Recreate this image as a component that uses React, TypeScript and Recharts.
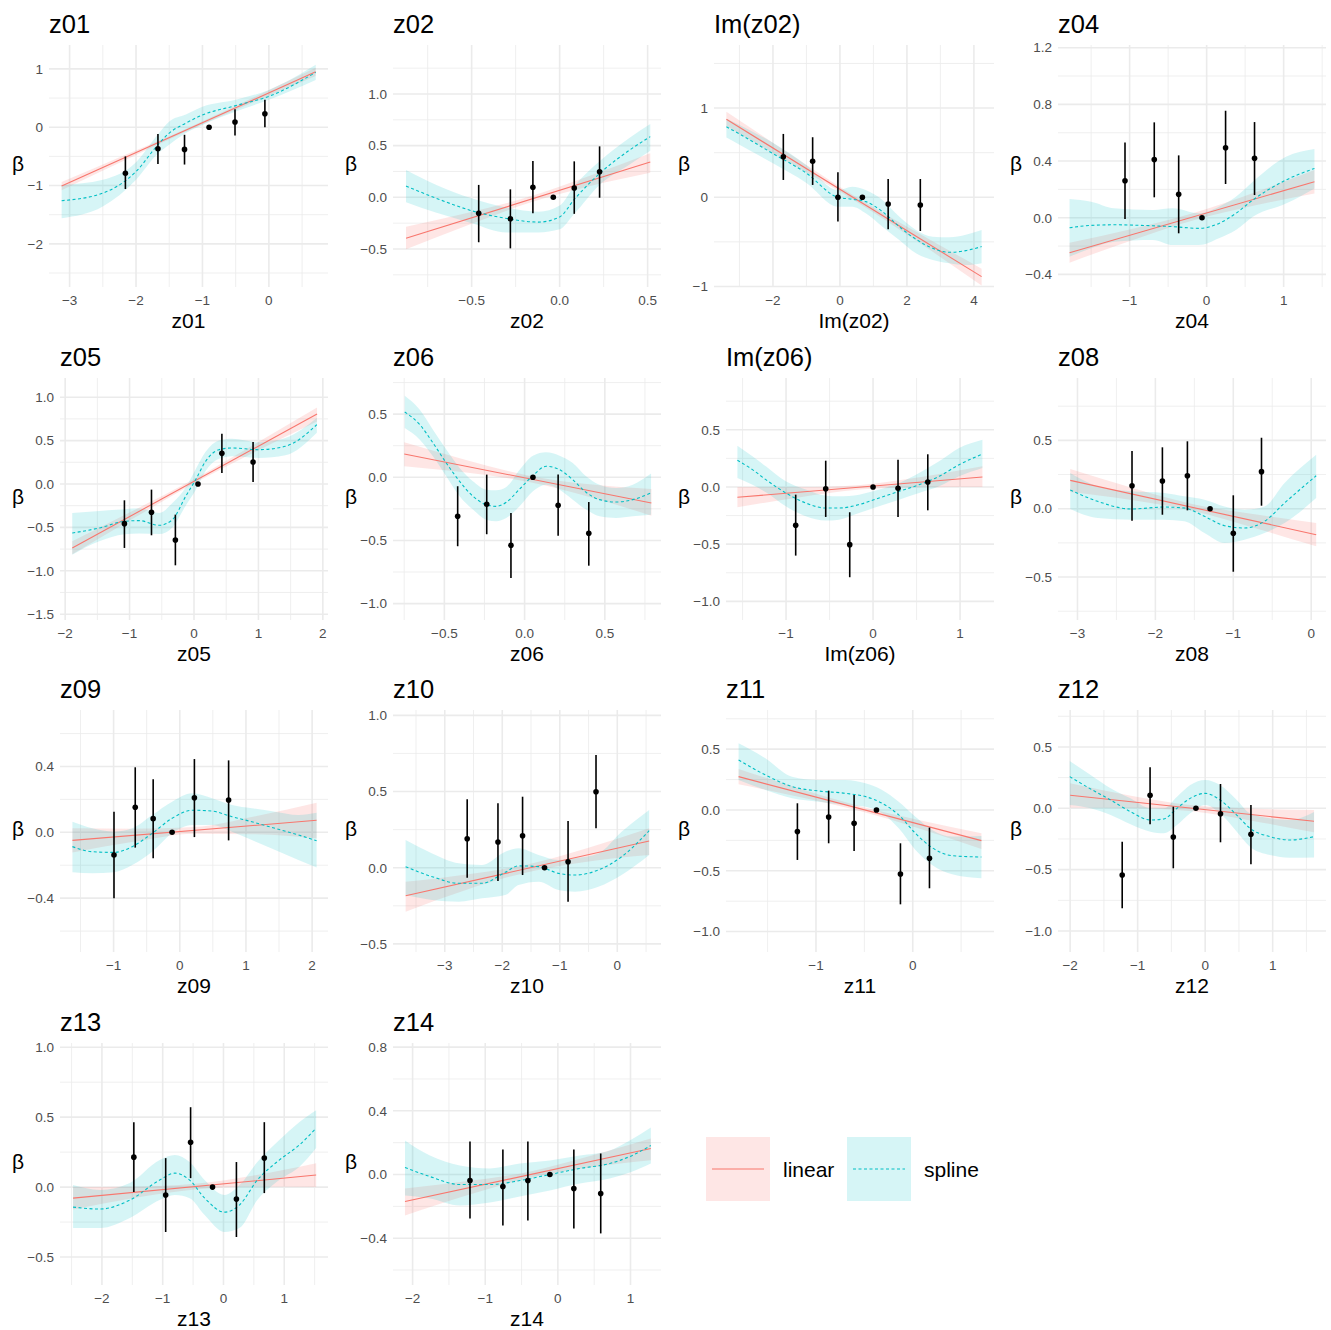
import React from 'react';
import { ComposedChart, XAxis, YAxis, CartesianGrid, Area, Line, Scatter, ErrorBar } from 'recharts';

// [x, estimate, lower, upper]
type Est = [number, number, number, number];
type Pt = [number, number];
type Band = [number, number, number];

const seriesNames = ['linear', 'spline'];

// ---------- z01 ----------
const z01Points: Est[] = [[-2.16, -0.79, -1.06, -0.5], [-1.67, -0.37, -0.63, -0.115], [-1.27, -0.38, -0.64, -0.13], [-0.9, 0, 0, 0], [-0.51, 0.09, -0.14, 0.31], [-0.06, 0.23, 0.0, 0.47]];
const z01Linear: Pt[] = [[-3.12, -1.01], [0.705, 0.95]];
const z01Band: Band[] = [[-3.12, -1.08, -0.94], [-2.16, -0.563, -0.473], [-1.21, -0.057, -0.007], [-0.25, 0.42, 0.5], [0.705, 0.88, 1.02]];
const z01Spline: Est[] = [[-3.12, -1.26, -1.56, -0.99], [-2.5, -1.13, -1.36, -0.9], [-2.0, -0.76, -0.9, -0.6], [-1.67, -0.3, -0.45, -0.12], [-1.5, -0.1, -0.3, 0.1], [-1.25, 0.07, -0.1, 0.22], [-1.0, 0.21, 0.04, 0.35], [-0.5, 0.37, 0.27, 0.47], [0.0, 0.53, 0.47, 0.64], [0.705, 0.94, 0.81, 1.07]];
const z01XTicks = [-3, -2, -1, 0];
const z01XMinor = [-2.5, -1.5, -0.5, 0.5];
const z01YTicks = [-2, -1, 0, 1];
const z01YMinor = [-2.5, -1.5, -0.5, 0.5];

// ---------- z02 ----------
const z02Points: Est[] = [[-0.46, -0.155, -0.435, 0.12], [-0.28, -0.207, -0.494, 0.077], [-0.152, 0.097, -0.155, 0.351], [-0.036, 0, 0, 0], [0.083, 0.09, -0.16, 0.348], [0.227, 0.248, -0.004, 0.493]];
const z02Linear: Pt[] = [[-0.873, -0.397], [0.515, 0.342]];
const z02Band: Band[] = [[-0.873, -0.503, -0.284], [-0.526, -0.272, -0.152], [-0.18, -0.058, 0.002], [0.168, 0.107, 0.207], [0.515, 0.238, 0.426]];
const z02Spline: Est[] = [[-0.873, 0.109, -0.048, 0.264], [-0.7, -0.01, -0.15, 0.12], [-0.5, -0.13, -0.25, -0.01], [-0.3, -0.205, -0.34, -0.1], [-0.12, -0.24, -0.34, -0.14], [0.0, -0.19, -0.31, -0.08], [0.083, -0.02, -0.16, 0.11], [0.227, 0.23, 0.12, 0.35], [0.4, 0.46, 0.32, 0.58], [0.515, 0.587, 0.45, 0.71]];
const z02XTicks = [-0.5, 0, 0.5];
const z02XMinor = [-0.75, -0.25, 0.25];
const z02YTicks = [-0.5, 0, 0.5, 1.0];
const z02YMinor = [-0.75, -0.25, 0.25, 0.75, 1.25];

// ---------- Im(z02) ----------
const im02Points: Est[] = [[-1.69, 0.455, 0.194, 0.71], [-0.815, 0.403, 0.138, 0.673], [-0.06, 0, -0.273, 0.28], [0.67, 0, 0, 0], [1.44, -0.075, -0.359, 0.205], [2.4, -0.086, -0.378, 0.205]];
const im02Linear: Pt[] = [[-3.39, 0.874], [4.23, -0.89]];
const im02Band: Band[] = [[-3.39, 0.8, 0.96], [-1.485, 0.383, 0.483], [0.42, -0.033, 0.017], [2.325, -0.499, -0.399], [4.23, -0.99, -0.8]];
const im02Spline: Est[] = [[-3.39, 0.79, 0.67, 0.88], [-3.0, 0.71, 0.59, 0.81], [-2.0, 0.49, 0.38, 0.61], [-1.0, 0.27, 0.16, 0.36], [-0.06, 0.0, -0.105, 0.082], [0.37, -0.022, -0.105, 0.119], [0.77, -0.049, -0.18, 0.082], [1.27, -0.161, -0.33, -0.03], [1.77, -0.33, -0.479, -0.217], [2.27, -0.471, -0.628, -0.367], [2.77, -0.572, -0.703, -0.442], [3.27, -0.617, -0.74, -0.449], [3.76, -0.598, -0.76, -0.42], [4.23, -0.553, -0.74, -0.367]];
const im02XTicks = [-2, 0, 2, 4];
const im02XMinor = [-3, -1, 1, 3];
const im02YTicks = [-1, 0, 1];
const im02YMinor = [-0.5, 0.5, 1.5];

// ---------- z04 ----------
const z04Points: Est[] = [[-1.06, 0.261, -0.009, 0.53], [-0.68, 0.41, 0.144, 0.673], [-0.363, 0.165, -0.11, 0.44], [-0.06, 0, 0, 0], [0.246, 0.494, 0.238, 0.755], [0.622, 0.419, 0.16, 0.675]];
const z04Linear: Pt[] = [[-1.78, -0.247], [1.4, 0.254]];
const z04Band: Band[] = [[-1.78, -0.317, -0.177], [-0.985, -0.162, -0.082], [-0.19, -0.021, 0.029], [0.605, 0.084, 0.174], [1.4, 0.171, 0.337]];
const z04Spline: Est[] = [[-1.78, -0.071, -0.275, 0.132], [-1.5, -0.054, -0.216, 0.113], [-1.2, -0.05, -0.169, 0.066], [-0.7, -0.057, -0.157, 0.054], [-0.44, -0.063, -0.193, 0.066], [-0.1, -0.075, -0.193, 0.031], [0.16, -0.04, -0.145, 0.078], [0.38, 0.031, -0.087, 0.148], [0.6, 0.125, 0.007, 0.254], [1.03, 0.266, 0.1, 0.43], [1.4, 0.348, 0.207, 0.485]];
const z04XTicks = [-1, 0, 1];
const z04XMinor = [-1.5, -0.5, 0.5, 1.5];
const z04YTicks = [-0.4, 0, 0.4, 0.8, 1.2];
const z04YMinor = [-0.2, 0.2, 0.6, 1.0];

// ---------- z05 ----------
const z05Points: Est[] = [[-1.08, -0.457, -0.737, -0.188], [-0.66, -0.326, -0.591, -0.065], [-0.289, -0.645, -0.937, -0.353], [0.062, 0, 0, 0], [0.433, 0.353, 0.127, 0.58], [0.917, 0.253, 0.023, 0.484]];
const z05Linear: Pt[] = [[-1.89, -0.737], [1.91, 0.806]];
const z05Band: Band[] = [[-1.89, -0.81, -0.66], [-0.94, -0.396, -0.306], [0.01, 0.01, 0.06], [0.96, 0.375, 0.465], [1.91, 0.72, 0.88]];
const z05Spline: Est[] = [[-1.89, -0.565, -0.814, -0.334], [-1.47, -0.507, -0.66, -0.31], [-1.08, -0.43, -0.58, -0.29], [-0.85, -0.422, -0.57, -0.28], [-0.54, -0.476, -0.576, -0.334], [-0.335, -0.411, -0.5, -0.22], [-0.129, -0.142, -0.25, -0.04], [0.026, 0.05, -0.07, 0.17], [0.18, 0.261, 0.15, 0.37], [0.387, 0.395, 0.29, 0.5], [0.592, 0.415, 0.32, 0.52], [1.005, 0.395, 0.3, 0.48], [1.418, 0.434, 0.33, 0.53], [1.907, 0.683, 0.59, 0.76]];
const z05XTicks = [-2, -1, 0, 1, 2];
const z05XMinor = [-1.5, -0.5, 0.5, 1.5];
const z05YTicks = [-1.5, -1, -0.5, 0, 0.5, 1];
const z05YMinor = [-1.25, -0.75, -0.25, 0.25, 0.75];

// ---------- z06 ----------
const z06Points: Est[] = [[-0.417, -0.309, -0.546, -0.071], [-0.236, -0.214, -0.451, 0.021], [-0.085, -0.538, -0.797, -0.283], [0.052, 0, 0, 0], [0.209, -0.222, -0.462, 0.021], [0.4, -0.443, -0.7, -0.196]];
const z06Linear: Pt[] = [[-0.75, 0.184], [0.79, -0.203]];
const z06Band: Band[] = [[-0.75, 0.087, 0.277], [-0.365, 0.037, 0.137], [0.02, -0.035, 0.015], [0.405, -0.156, -0.056], [0.79, -0.304, -0.093]];
const z06Spline: Est[] = [[-0.747, 0.517, 0.39, 0.646], [-0.653, 0.417, 0.298, 0.535], [-0.571, 0.272, 0.166, 0.377], [-0.488, 0.113, 0.008, 0.219], [-0.405, -0.032, -0.15, 0.074], [-0.322, -0.15, -0.256, -0.032], [-0.239, -0.217, -0.336, -0.098], [-0.177, -0.23, -0.348, -0.103], [-0.114, -0.198, -0.322, -0.077], [-0.031, -0.093, -0.23, 0.06], [0.052, 0.013, -0.111, 0.171], [0.134, 0.087, -0.059, 0.198], [0.218, 0.06, -0.098, 0.171], [0.3, -0.019, -0.177, 0.113], [0.383, -0.119, -0.256, 0.008], [0.467, -0.177, -0.309, -0.059], [0.57, -0.196, -0.322, -0.085], [0.674, -0.177, -0.309, -0.059], [0.788, -0.124, -0.296, 0.029]];
const z06XTicks = [-0.5, 0, 0.5];
const z06XMinor = [-0.75, -0.25, 0.25, 0.75];
const z06YTicks = [-1, -0.5, 0, 0.5];
const z06YMinor = [-0.75, -0.25, 0.25, 0.75];

// ---------- Im(z06) ----------
const im06Points: Est[] = [[-0.889, -0.335, -0.6, -0.067], [-0.544, -0.015, -0.262, 0.23], [-0.268, -0.504, -0.789, -0.221], [0, 0, 0, 0], [0.287, -0.012, -0.262, 0.239], [0.629, 0.044, -0.204, 0.286]];
const im06Linear: Pt[] = [[-1.559, -0.09], [1.257, 0.087]];
const im06Band: Band[] = [[-1.559, -0.178, 0.0], [-0.855, -0.091, -0.001], [-0.151, -0.022, 0.018], [0.553, -0.002, 0.088], [1.257, 0.0, 0.181]];
const im06Spline: Est[] = [[-1.559, 0.233, 0.079, 0.361], [-1.386, 0.152, 0.02, 0.268], [-1.232, 0.064, -0.047, 0.181], [-1.003, -0.052, -0.169, 0.05], [-0.774, -0.14, -0.256, -0.023], [-0.544, -0.184, -0.294, -0.076], [-0.391, -0.184, -0.286, -0.082], [-0.161, -0.154, -0.227, -0.067], [0.069, -0.096, -0.169, -0.023], [0.299, -0.038, -0.111, 0.035], [0.529, 0.02, -0.052, 0.122], [0.759, 0.093, 0.006, 0.224], [0.989, 0.195, 0.093, 0.341], [1.257, 0.288, 0.166, 0.414]];
const im06XTicks = [-1, 0, 1];
const im06XMinor = [-1.5, -0.5, 0.5];
const im06YTicks = [-1, -0.5, 0, 0.5];
const im06YMinor = [-0.75, -0.25, 0.25, 0.75];

// ---------- z08 ----------
const z08Points: Est[] = [[-2.3, 0.168, -0.088, 0.422], [-1.91, 0.203, -0.044, 0.449], [-1.589, 0.241, -0.012, 0.493], [-1.298, 0, 0, 0], [-1.0, -0.18, -0.461, 0.098], [-0.638, 0.271, 0.022, 0.519]];
const z08Linear: Pt[] = [[-3.093, 0.207], [0.064, -0.19]];
const z08Band: Band[] = [[-3.093, 0.122, 0.29], [-2.304, 0.063, 0.153], [-1.515, -0.017, 0.033], [-0.725, -0.141, -0.041], [0.064, -0.275, -0.105]];
const z08Spline: Est[] = [[-3.093, 0.137, -0.002, 0.261], [-2.742, 0.054, -0.068, 0.164], [-2.314, -0.002, -0.08, 0.127], [-1.885, 0.012, -0.08, 0.115], [-1.628, 0.005, -0.092, 0.091], [-1.37, -0.056, -0.178, 0.066], [-1.113, -0.124, -0.251, 0.017], [-0.856, -0.141, -0.227, -0.007], [-0.599, -0.092, -0.178, 0.017], [-0.342, 0.042, -0.105, 0.188], [0.064, 0.241, 0.078, 0.395]];
const z08XTicks = [-3, -2, -1, 0];
const z08XMinor = [-2.5, -1.5, -0.5];
const z08YTicks = [-0.5, 0, 0.5];
const z08YMinor = [-0.75, -0.25, 0.25, 0.75];

// ---------- z09 ----------
const z09Points: Est[] = [[-0.994, -0.138, -0.401, 0.125], [-0.673, 0.152, -0.093, 0.395], [-0.402, 0.083, -0.158, 0.322], [-0.116, 0, 0, 0], [0.221, 0.21, -0.029, 0.445], [0.738, 0.196, -0.049, 0.437]];
const z09Linear: Pt[] = [[-1.622, -0.049], [2.068, 0.073]];
const z09Band: Band[] = [[-1.622, -0.122, 0.024], [-0.7, -0.058, 0.022], [0.223, -0.008, 0.032], [1.145, -0.012, 0.098], [2.068, -0.036, 0.18]];
const z09Spline: Est[] = [[-1.622, -0.087, -0.243, 0.064], [-1.321, -0.118, -0.249, 0.024], [-0.994, -0.122, -0.243, 0.004], [-0.718, -0.087, -0.199, 0.024], [-0.417, -0.006, -0.118, 0.105], [-0.116, 0.085, -0.006, 0.186], [0.185, 0.134, 0.044, 0.237], [0.487, 0.129, 0.044, 0.207], [0.788, 0.095, 0.004, 0.166], [1.089, 0.064, -0.047, 0.146], [1.441, 0.024, -0.108, 0.125], [1.792, -0.016, -0.168, 0.105], [2.068, -0.051, -0.213, 0.119]];
const z09XTicks = [-1, 0, 1, 2];
const z09XMinor = [-1.5, -0.5, 0.5, 1.5];
const z09YTicks = [-0.4, 0, 0.4];
const z09YMinor = [-0.6, -0.2, 0.2, 0.6];

// ---------- z10 ----------
const z10Points: Est[] = [[-2.61, 0.19, -0.066, 0.449], [-2.075, 0.169, -0.087, 0.423], [-1.647, 0.21, -0.048, 0.466], [-1.265, 0, 0, 0], [-0.856, 0.039, -0.223, 0.306], [-0.37, 0.499, 0.259, 0.739]];
const z10Linear: Pt[] = [[-3.68, -0.184], [0.554, 0.175]];
const z10Band: Band[] = [[-3.68, -0.289, -0.092], [-2.62, -0.144, -0.044], [-1.56, -0.029, 0.021], [-0.5, 0.041, 0.131], [0.554, 0.083, 0.259]];
const z10Spline: Est[] = [[-3.681, 0.007, -0.179, 0.182], [-3.218, -0.059, -0.212, 0.094], [-2.756, -0.102, -0.223, 0.029], [-2.352, -0.102, -0.201, 0.018], [-1.948, -0.03, -0.179, 0.105], [-1.716, 0.012, -0.114, 0.127], [-1.369, 0.007, -0.092, 0.083], [-1.023, -0.037, -0.146, 0.051], [-0.735, -0.048, -0.157, 0.062], [-0.329, -0.015, -0.125, 0.094], [0.075, 0.072, -0.048, 0.236], [0.554, 0.243, 0.083, 0.379]];
const z10XTicks = [-3, -2, -1, 0];
const z10XMinor = [-3.5, -2.5, -1.5, -0.5, 0.5];
const z10YTicks = [-0.5, 0, 0.5, 1.0];
const z10YMinor = [-0.25, 0.25, 0.75];

// ---------- z11 ----------
const z11Points: Est[] = [[-1.192, -0.178, -0.411, 0.055], [-0.869, -0.058, -0.274, 0.159], [-0.606, -0.11, -0.337, 0.123], [-0.375, 0, 0, 0], [-0.127, -0.526, -0.776, -0.274], [0.173, -0.397, -0.644, -0.145]];
const z11Linear: Pt[] = [[-1.8, 0.274], [0.71, -0.252]];
const z11Band: Band[] = [[-1.8, 0.211, 0.337], [-1.17, 0.107, 0.177], [-0.545, -0.009, 0.031], [0.083, -0.156, -0.086], [0.71, -0.321, -0.192]];
const z11Spline: Est[] = [[-1.8, 0.411, 0.247, 0.548], [-1.523, 0.288, 0.164, 0.425], [-1.247, 0.192, 0.096, 0.274], [-0.972, 0.156, 0.068, 0.247], [-0.696, 0.137, 0.041, 0.247], [-0.489, 0.11, 0.027, 0.219], [-0.317, 0.055, -0.027, 0.164], [-0.145, -0.041, -0.151, 0.068], [0.028, -0.192, -0.329, -0.055], [0.2, -0.31, -0.452, -0.164], [0.407, -0.376, -0.529, -0.219], [0.71, -0.387, -0.562, -0.214]];
const z11XTicks = [-1, 0];
const z11XMinor = [-1.5, -0.5, 0.5];
const z11YTicks = [-1, -0.5, 0, 0.5];
const z11YMinor = [-0.75, -0.25, 0.25, 0.75];

// ---------- z12 ----------
const z12Points: Est[] = [[-1.229, -0.544, -0.815, -0.272], [-0.816, 0.106, -0.13, 0.334], [-0.472, -0.234, -0.489, 0.013], [-0.137, 0, 0, 0], [0.227, -0.044, -0.277, 0.198], [0.678, -0.212, -0.456, 0.027]];
const z12Linear: Pt[] = [[-2.0, 0.106], [1.613, -0.106]];
const z12Band: Band[] = [[-2.0, 0.005, 0.204], [-1.1, 0.003, 0.103], [-0.19, -0.025, 0.025], [0.71, -0.103, -0.003], [1.613, -0.196, -0.014]];
const z12Spline: Est[] = [[-2.006, 0.258, 0.027, 0.385], [-1.696, 0.157, 0.0, 0.271], [-1.401, 0.068, -0.055, 0.163], [-1.106, -0.028, -0.13, 0.081], [-0.811, -0.095, -0.191, 0.0], [-0.614, -0.087, -0.204, 0.0], [-0.417, 0.0, -0.136, 0.095], [-0.221, 0.081, -0.041, 0.19], [0.0, 0.122, 0.027, 0.231], [0.221, 0.068, -0.041, 0.19], [0.468, -0.055, -0.191, 0.068], [0.664, -0.163, -0.313, -0.041], [0.959, -0.231, -0.381, -0.081], [1.254, -0.258, -0.402, -0.095], [1.613, -0.231, -0.4, -0.03]];
const z12XTicks = [-2, -1, 0, 1];
const z12XMinor = [-1.5, -0.5, 0.5, 1.5];
const z12YTicks = [-1, -0.5, 0, 0.5];
const z12YMinor = [-0.75, -0.25, 0.25, 0.75];

// ---------- z13 ----------
const z13Points: Est[] = [[-1.475, 0.214, -0.036, 0.464], [-0.951, -0.057, -0.321, 0.207], [-0.541, 0.321, 0.064, 0.571], [-0.18, 0, 0, 0], [0.213, -0.086, -0.357, 0.179], [0.672, 0.207, -0.043, 0.464]];
const z13Linear: Pt[] = [[-2.475, -0.079], [1.525, 0.086]];
const z13Band: Band[] = [[-2.475, -0.16, 0.0], [-1.475, -0.078, 0.002], [-0.475, -0.017, 0.023], [0.525, 0.005, 0.085], [1.525, 0.0, 0.17]];
const z13Spline: Est[] = [[-2.475, -0.143, -0.293, 0.014], [-2.03, -0.157, -0.293, -0.021], [-1.54, -0.093, -0.221, 0.029], [-1.05, 0.05, -0.093, 0.193], [-0.8, 0.1, -0.057, 0.229], [-0.557, 0.05, -0.079, 0.179], [-0.31, -0.079, -0.2, 0.05], [0.016, -0.179, -0.321, -0.057], [0.262, -0.129, -0.293, 0.014], [0.557, 0.05, -0.093, 0.179], [0.918, 0.193, 0.05, 0.336], [1.246, 0.3, 0.143, 0.464], [1.525, 0.421, 0.279, 0.55]];
const z13XTicks = [-2, -1, 0, 1];
const z13XMinor = [-2.5, -1.5, -0.5, 0.5, 1.5];
const z13YTicks = [-0.5, 0, 0.5, 1.0];
const z13YMinor = [-0.25, 0.25, 0.75];

// ---------- z14 ----------
const z14Points: Est[] = [[-1.21, -0.038, -0.276, 0.207], [-0.757, -0.075, -0.32, 0.157], [-0.413, -0.038, -0.289, 0.207], [-0.11, 0, 0, 0], [0.22, -0.088, -0.339, 0.157], [0.59, -0.119, -0.37, 0.132]];
const z14Linear: Pt[] = [[-2.105, -0.17], [1.28, 0.163]];
const z14Band: Band[] = [[-2.105, -0.258, -0.088], [-1.26, -0.132, -0.042], [-0.41, -0.024, 0.016], [0.43, 0.044, 0.114], [1.28, 0.09, 0.226]];
const z14Spline: Est[] = [[-2.105, 0.044, -0.132, 0.214], [-1.761, -0.013, -0.151, 0.119], [-1.348, -0.063, -0.195, 0.057], [-0.935, -0.063, -0.176, 0.038], [-0.523, -0.038, -0.138, 0.069], [-0.11, 0.0, -0.1, 0.088], [0.303, 0.038, -0.057, 0.119], [0.715, 0.069, -0.025, 0.151], [0.99, 0.113, 0.013, 0.214], [1.28, 0.182, 0.069, 0.295]];
const z14XTicks = [-2, -1, 0, 1];
const z14XMinor = [-1.5, -0.5, 0.5];
const z14YTicks = [-0.4, 0, 0.4, 0.8];
const z14YMinor = [-0.6, -0.2, 0.2, 0.6];

type PanelDef = {
  title: string;
  xDomain: [number, number];
  yDomain: [number, number];
  xTicks: number[];
  xMinor: number[];
  yTicks: number[];
  yMinor: number[];
  xDec: number;
  yDec: number;
  axisW: number;
  points: Est[];
  linear: Pt[];
  band: Band[];
  spline: Est[];
};

const panels: PanelDef[] = [
  { title: 'z01', xDomain: [-3.31, 0.89], yDomain: [-2.74, 1.41], xTicks: z01XTicks, xMinor: z01XMinor, yTicks: z01YTicks, yMinor: z01YMinor, xDec: 0, yDec: 0, axisW: 49, points: z01Points, linear: z01Linear, band: z01Band, spline: z01Spline },
  { title: 'z02', xDomain: [-0.947, 0.576], yDomain: [-0.868, 1.474], xTicks: z02XTicks, xMinor: z02XMinor, yTicks: z02YTicks, yMinor: z02YMinor, xDec: 1, yDec: 1, axisW: 60, points: z02Points, linear: z02Linear, band: z02Band, spline: z02Spline },
  { title: 'Im(z02)', xDomain: [-3.76, 4.6], yDomain: [-1.006, 1.707], xTicks: im02XTicks, xMinor: im02XMinor, yTicks: im02YTicks, yMinor: im02YMinor, xDec: 0, yDec: 0, axisW: 48, points: im02Points, linear: im02Linear, band: im02Band, spline: im02Spline },
  { title: 'z04', xDomain: [-1.93, 1.55], yDomain: [-0.489, 1.219], xTicks: z04XTicks, xMinor: z04XMinor, yTicks: z04YTicks, yMinor: z04YMinor, xDec: 0, yDec: 1, axisW: 60, points: z04Points, linear: z04Linear, band: z04Band, spline: z04Spline },
  { title: 'z05', xDomain: [-2.08, 2.08], yDomain: [-1.567, 1.221], xTicks: z05XTicks, xMinor: z05XMinor, yTicks: z05YTicks, yMinor: z05YMinor, xDec: 0, yDec: 1, axisW: 60, points: z05Points, linear: z05Linear, band: z05Band, spline: z05Spline },
  { title: 'z06', xDomain: [-0.82, 0.85], yDomain: [-1.13, 0.786], xTicks: z06XTicks, xMinor: z06XMinor, yTicks: z06YTicks, yMinor: z06YMinor, xDec: 1, yDec: 1, axisW: 60, points: z06Points, linear: z06Linear, band: z06Band, spline: z06Spline },
  { title: 'Im(z06)', xDomain: [-1.69, 1.39], yDomain: [-1.163, 0.953], xTicks: im06XTicks, xMinor: im06XMinor, yTicks: im06YTicks, yMinor: im06YMinor, xDec: 0, yDec: 1, axisW: 60, points: im06Points, linear: im06Linear, band: im06Band, spline: im06Spline },
  { title: 'z08', xDomain: [-3.25, 0.19], yDomain: [-0.814, 0.956], xTicks: z08XTicks, xMinor: z08XMinor, yTicks: z08YTicks, yMinor: z08YMinor, xDec: 0, yDec: 1, axisW: 60, points: z08Points, linear: z08Linear, band: z08Band, spline: z08Spline },
  { title: 'z09', xDomain: [-1.81, 2.24], yDomain: [-0.727, 0.743], xTicks: z09XTicks, xMinor: z09XMinor, yTicks: z09YTicks, yMinor: z09YMinor, xDec: 0, yDec: 1, axisW: 60, points: z09Points, linear: z09Linear, band: z09Band, spline: z09Spline },
  { title: 'z10', xDomain: [-3.9, 0.76], yDomain: [-0.553, 1.035], xTicks: z10XTicks, xMinor: z10XMinor, yTicks: z10YTicks, yMinor: z10YMinor, xDec: 0, yDec: 1, axisW: 60, points: z10Points, linear: z10Linear, band: z10Band, spline: z10Spline },
  { title: 'z11', xDomain: [-1.93, 0.84], yDomain: [-1.168, 0.822], xTicks: z11XTicks, xMinor: z11XMinor, yTicks: z11YTicks, yMinor: z11YMinor, xDec: 0, yDec: 1, axisW: 60, points: z11Points, linear: z11Linear, band: z11Band, spline: z11Spline },
  { title: 'z12', xDomain: [-2.18, 1.79], yDomain: [-1.171, 0.801], xTicks: z12XTicks, xMinor: z12XMinor, yTicks: z12YTicks, yMinor: z12YMinor, xDec: 0, yDec: 1, axisW: 60, points: z12Points, linear: z12Linear, band: z12Band, spline: z12Spline },
  { title: 'z13', xDomain: [-2.69, 1.72], yDomain: [-0.7, 1.03], xTicks: z13XTicks, xMinor: z13XMinor, yTicks: z13YTicks, yMinor: z13YMinor, xDec: 0, yDec: 1, axisW: 60, points: z13Points, linear: z13Linear, band: z13Band, spline: z13Spline },
  { title: 'z14', xDomain: [-2.27, 1.42], yDomain: [-0.694, 0.826], xTicks: z14XTicks, xMinor: z14XMinor, yTicks: z14YTicks, yMinor: z14YMinor, xDec: 0, yDec: 1, axisW: 60, points: z14Points, linear: z14Linear, band: z14Band, spline: z14Spline },
];

const RED = '#F8766D';
const CYAN = '#00BFC4';
const GRID = '#EBEBEB';
const FONT = '"Liberation Sans", Arial, Helvetica, sans-serif';
const CELL_W = 332.75;
const CELL_H = 332.5;
const CHART_W = 333;
const CHART_H = 333;
const PLOT_RIGHT = 328;

if (typeof document !== 'undefined') document.body.style.margin = '0';

const fmt = (dec: number) => (v: number) => v.toFixed(dec).replace('-', '\u2212');

const Dot = (props: any) => {
  if (props.cx == null || props.cy == null) return null;
  return <circle cx={props.cx} cy={props.cy} r={2.8} fill="#000" />;
};

function Panel({ p, col, row }: { p: PanelDef; col: number; row: number }) {
  const pts = p.points.map(([x, y, lo, hi]) => ({ x, y, err: [y - lo, hi - y] }));
  const lin = p.linear.map(([x, y]) => ({ x, y }));
  const linBand = p.band.map(([x, lo, hi]) => ({ x, band: [lo, hi] }));
  const splBand = p.spline.map(([x, , lo, hi]) => ({ x, band: [lo, hi] }));
  const spl = p.spline.map(([x, y]) => ({ x, y }));
  const tickStyle = { fill: '#4D4D4D', fontSize: 13.5, fontFamily: FONT };

  return (
    <div style={{ position: 'absolute', left: col * CELL_W, top: row * CELL_H, width: CHART_W, height: CHART_H }}>
      <ComposedChart width={CHART_W} height={CHART_H} margin={{ top: 45, right: CHART_W - PLOT_RIGHT, bottom: 0, left: 0 }}>
        <CartesianGrid stroke={GRID} strokeWidth={0.8} verticalValues={p.xMinor} horizontalValues={p.yMinor} />
        <CartesianGrid stroke={GRID} strokeWidth={1.6} verticalValues={p.xTicks} horizontalValues={p.yTicks} />
        <XAxis
          type="number"
          dataKey="x"
          domain={p.xDomain}
          ticks={p.xTicks}
          interval={0}
          allowDataOverflow
          height={46}
          axisLine={false}
          tickLine={false}
          tick={tickStyle}
          tickFormatter={fmt(p.xDec)}
        />
        <YAxis
          type="number"
          dataKey="y"
          domain={p.yDomain}
          ticks={p.yTicks}
          interval={0}
          allowDataOverflow
          width={p.axisW}
          axisLine={false}
          tickLine={false}
          tickSize={4}
          tickMargin={2}
          tick={tickStyle}
          tickFormatter={fmt(p.yDec)}
        />
        <Area data={linBand} dataKey="band" type="monotone" stroke="none" fill={RED} fillOpacity={0.18} isAnimationActive={false} />
        <Area data={splBand} dataKey="band" type="monotone" stroke="none" fill={CYAN} fillOpacity={0.16} isAnimationActive={false} />
        <Line data={lin} dataKey="y" type="linear" stroke={RED} strokeWidth={1.1} dot={false} activeDot={false} isAnimationActive={false} />
        <Line data={spl} dataKey="y" type="monotone" stroke={CYAN} strokeWidth={1.1} strokeDasharray="3 2.5" dot={false} activeDot={false} isAnimationActive={false} />
        <Scatter data={pts} dataKey="y" shape={Dot} isAnimationActive={false}>
          <ErrorBar dataKey="err" direction="y" width={0} stroke="#000" strokeWidth={1.6} />
        </Scatter>
      </ComposedChart>
      <svg width={CHART_W} height={CHART_H} style={{ position: 'absolute', left: 0, top: 0, pointerEvents: 'none' }}>
        <text x={p.axisW} y={32.5} fontSize={25.5} fontFamily={FONT} fill="#000">{p.title}</text>
        <text x={18} y={171} fontSize={21} fontFamily={FONT} fill="#000" textAnchor="middle">β</text>
        <text x={(p.axisW + PLOT_RIGHT) / 2} y={328} fontSize={21} fontFamily={FONT} fill="#000" textAnchor="middle">{p.title}</text>
      </svg>
    </div>
  );
}

function LegendBox() {
  const colors = [RED, CYAN];
  return (
    <svg width={1331} height={1330} style={{ position: 'absolute', left: 0, top: 0, pointerEvents: 'none' }}>
      {seriesNames.map((name, i) => {
        const x = 706 + i * 141;
        const y = 1137;
        return (
          <g key={name}>
            <rect x={x} y={y} width={64} height={64} fill={colors[i]} fillOpacity={i === 0 ? 0.18 : 0.16} />
            <line x1={x + 6} x2={x + 58} y1={y + 32} y2={y + 32} stroke={colors[i]} strokeWidth={1.1} strokeDasharray={i === 0 ? undefined : '3 2.5'} />
            <text x={x + 77} y={y + 40} fontSize={21} fontFamily={FONT} fill="#000">{name}</text>
          </g>
        );
      })}
    </svg>
  );
}

export default function App() {
  return (
    <div style={{ position: 'relative', width: 1331, height: 1330, background: '#fff', fontFamily: FONT }}>
      {panels.map((p, i) => (
        <Panel key={p.title} p={p} col={i % 4} row={Math.floor(i / 4)} />
      ))}
      <LegendBox />
    </div>
  );
}
